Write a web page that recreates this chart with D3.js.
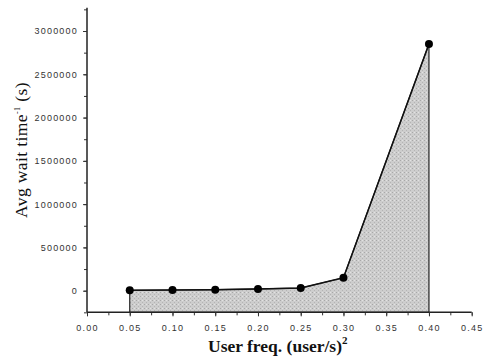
<!DOCTYPE html>
<html><head><meta charset="utf-8">
<script src="https://cdn.jsdelivr.net/npm/d3@7"></script>
<style>
body{margin:0;background:#fff;}
svg{display:block;}
.tick text{font-family:"Liberation Sans",Arial,sans-serif;font-size:9px;fill:#333;letter-spacing:1.2px;}
</style></head>
<body><svg id="c" width="491" height="357"></svg>
<script>
const freq = [0.05, 0.10, 0.15, 0.20, 0.25, 0.30, 0.40];
const waitInv = [5000, 8000, 12000, 20000, 30000, 150000, 2850000];
const xTicks = [0.00, 0.05, 0.10, 0.15, 0.20, 0.25, 0.30, 0.35, 0.40, 0.45];
const yTicks = [0, 500000, 1000000, 1500000, 2000000, 2500000, 3000000];

const svg = d3.select("#c");
const x = d3.scaleLinear().domain([0, 0.45]).range([87, 471.7]);
const y = d3.scaleLinear().domain([0, 3000000]).range([290.7, 31]);
const yBottom = -250000, yTop = 3270000;

const defs = svg.append("defs");
const pat = defs.append("pattern").attr("id","stip").attr("patternUnits","userSpaceOnUse")
  .attr("width",4).attr("height",4);
pat.append("rect").attr("width",4).attr("height",4).attr("fill","#cdcdcd");
pat.append("rect").attr("x",0).attr("y",0).attr("width",1).attr("height",1).attr("fill","#a8a8a8");
pat.append("rect").attr("x",2).attr("y",2).attr("width",1).attr("height",1).attr("fill","#b4b4b4");
pat.append("rect").attr("x",2).attr("y",0).attr("width",1).attr("height",1).attr("fill","#e2e2e2");

const pts = freq.map((f,i)=>[f, waitInv[i]]);
const area = d3.area().x(d=>x(d[0])).y0(y(yBottom)).y1(d=>y(d[1]));
svg.append("path").datum(pts).attr("d", area).attr("fill","url(#stip)")
  .attr("stroke","#222").attr("stroke-width",1.2);
const line = d3.line().x(d=>x(d[0])).y(d=>y(d[1]));
svg.append("path").datum(pts).attr("d", line).attr("fill","none")
  .attr("stroke","#111").attr("stroke-width",1.5);
svg.selectAll("circle.pt").data(pts).enter().append("circle")
  .attr("cx",d=>x(d[0])).attr("cy",d=>y(d[1])).attr("r",4).attr("fill","#000");

const xMinor = d3.range(0, 0.451, 0.025);
const xAxisG = svg.append("g").attr("transform",`translate(0,${y(yBottom)})`);
xAxisG.call(d3.axisBottom(x).tickValues(xMinor).tickSize(3).tickFormat(""));
xAxisG.call(g=>g.select(".domain").remove());
const xMaj = svg.append("g").attr("transform",`translate(0,${y(yBottom)})`)
  .call(d3.axisBottom(x).tickValues(xTicks).tickSize(4).tickPadding(8).tickFormat(d3.format(".2f")));
xMaj.select(".domain").attr("stroke","#222").attr("stroke-width",1.5).attr("d",`M${x(0)},0H${x(0.45)}`);

const yMinor = d3.range(yBottom, yTop, 250000);
const yMin = svg.append("g").attr("transform",`translate(${x(0)},0)`)
  .call(d3.axisLeft(y).tickValues(yMinor).tickSize(3).tickFormat(""));
yMin.select(".domain").remove();
const yMaj = svg.append("g").attr("transform",`translate(${x(0)},0)`)
  .call(d3.axisLeft(y).tickValues(yTicks).tickSize(4).tickPadding(5).tickFormat(d3.format("d")));
yMaj.select(".domain").attr("stroke","#222").attr("stroke-width",1.5)
  .attr("d",`M0,${y(yBottom)}V${y(yTop)}`);
svg.selectAll(".tick line").attr("stroke","#333");

const xt = svg.append("text").attr("x",208).attr("y",352)
  .attr("font-family","'Liberation Serif','Times New Roman',serif").attr("font-weight","bold")
  .attr("font-size","17.5px").attr("fill","#111");
xt.append("tspan").text("User freq. (user/s)");
xt.append("tspan").attr("dy",-8).attr("font-size","11px").text("2");

const yt = svg.append("text").attr("transform","translate(27,218) rotate(-90)")
  .attr("font-family","'Liberation Serif','Times New Roman',serif")
  .attr("font-size","17.5px").attr("letter-spacing","0.4px").attr("fill","#111");
yt.append("tspan").text("Avg wait time");
yt.append("tspan").attr("dy",-7).attr("font-size","8px").text("-1");
yt.append("tspan").attr("dy",7).text(" (s)");
</script></body></html>
